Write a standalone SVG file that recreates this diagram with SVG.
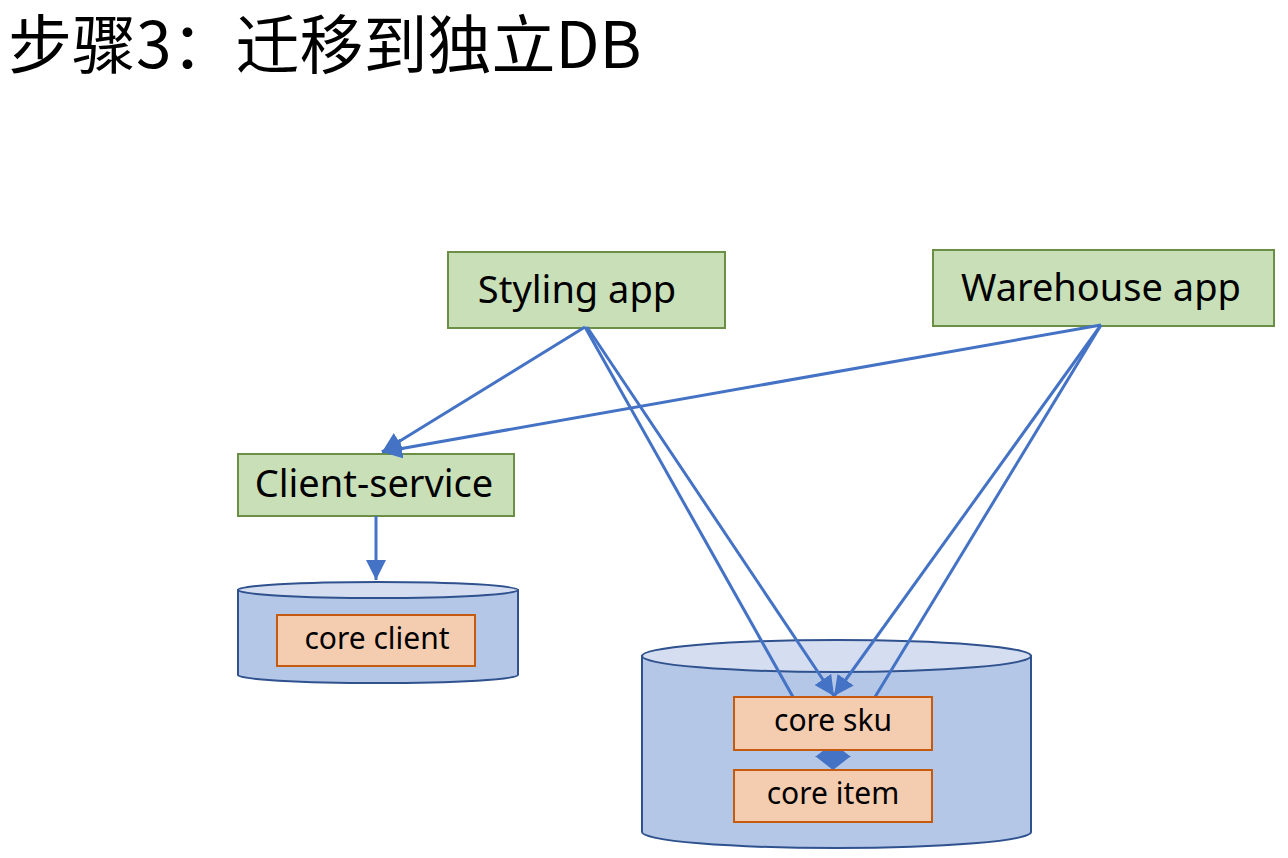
<svg xmlns="http://www.w3.org/2000/svg" width="1288" height="858" viewBox="0 0 1288 858">
<style>
.app{fill:#C9DFB8;stroke:#6A8F45;stroke-width:2}
.db{fill:#B4C7E7;stroke:#2F528F;stroke-width:2}
.dbtop{fill:#D5DDF0;stroke:#2F528F;stroke-width:2}
.tbl{fill:#F4CDB0;stroke:#C55A11;stroke-width:2}
.lbl{font-family:"Noto Sans","Liberation Sans",sans-serif;font-size:38px;fill:#000;text-anchor:middle}
.sl{font-family:"Noto Sans","Liberation Sans",sans-serif;font-size:30px;fill:#000;text-anchor:middle}
.title{font-family:"Noto Sans CJK SC","Noto Sans",sans-serif;font-size:64px;font-weight:400;fill:#000}
.con{fill:none;stroke:#4472C4;stroke-width:3}
</style>
<defs>
<marker id="arr" markerUnits="userSpaceOnUse" viewBox="0 0 20 20" markerWidth="20" markerHeight="20" refX="20" refY="10" orient="auto">
<path d="M0,0 L20,10 L0,20 Z" fill="#4472C4"/>
</marker>
<marker id="arrW" markerUnits="userSpaceOnUse" viewBox="0 0 14 36" markerWidth="14" markerHeight="36" refX="14" refY="18" orient="auto-start-reverse">
<path d="M0,0 L14,18 L0,36 Z" fill="#4472C4"/>
</marker>
</defs>
<rect width="1288" height="858" fill="#fff"/>
<text class="title" x="8" y="68">步骤3：迁移到独立DB</text>

<g id="styling-app">
<rect class="app" x="448" y="252" width="277" height="76"/>
<text class="lbl" x="577" y="303">Styling app</text>
</g>
<g id="warehouse-app">
<rect class="app" x="933" y="250" width="341" height="76"/>
<text class="lbl" x="1101" y="301">Warehouse app</text>
</g>
<g id="client-service">
<rect class="app" x="238" y="454" width="276" height="62"/>
<text class="lbl" x="374" y="497">Client-service</text>
</g>
<g id="client-db">
<path class="db" d="M238,590 L238,675 A140,8 0 0 0 518,675 L518,590 Z"/>
<ellipse class="dbtop" cx="378" cy="590" rx="140" ry="8"/>
</g>
<g id="core-db">
<path class="db" d="M642,656 L642,832 A194.5,16 0 0 0 1031,832 L1031,656 Z"/>
<ellipse class="dbtop" cx="836.5" cy="656" rx="194.5" ry="16"/>
</g>

<g id="connectors">
<path class="con" d="M585,327 L382,452" marker-end="url(#arr)"/>
<path class="con" d="M1101,325 L382,452" marker-end="url(#arr)"/>
<path class="con" d="M376,516 L376,580" marker-end="url(#arr)"/>
<path class="con" d="M587,327 L834,696" marker-end="url(#arr)"/>
<path class="con" d="M585,327 L793,697"/>
<path class="con" d="M1101,325 L834,696" marker-end="url(#arr)"/>
<path class="con" d="M1101,325 L875,697"/>
<path class="con" d="M833,743 L833,770" marker-start="url(#arrW)" marker-end="url(#arrW)"/>
</g>

<g id="core-client">
<rect class="tbl" x="277" y="615" width="198" height="51"/>
<text class="sl" x="377" y="649">core client</text>
</g>
<g id="core-sku">
<rect class="tbl" x="734" y="697" width="198" height="53"/>
<text class="sl" x="833" y="731">core sku</text>
</g>
<g id="core-item">
<rect class="tbl" x="734" y="770" width="198" height="52"/>
<text class="sl" x="833" y="804">core item</text>
</g>
</svg>
